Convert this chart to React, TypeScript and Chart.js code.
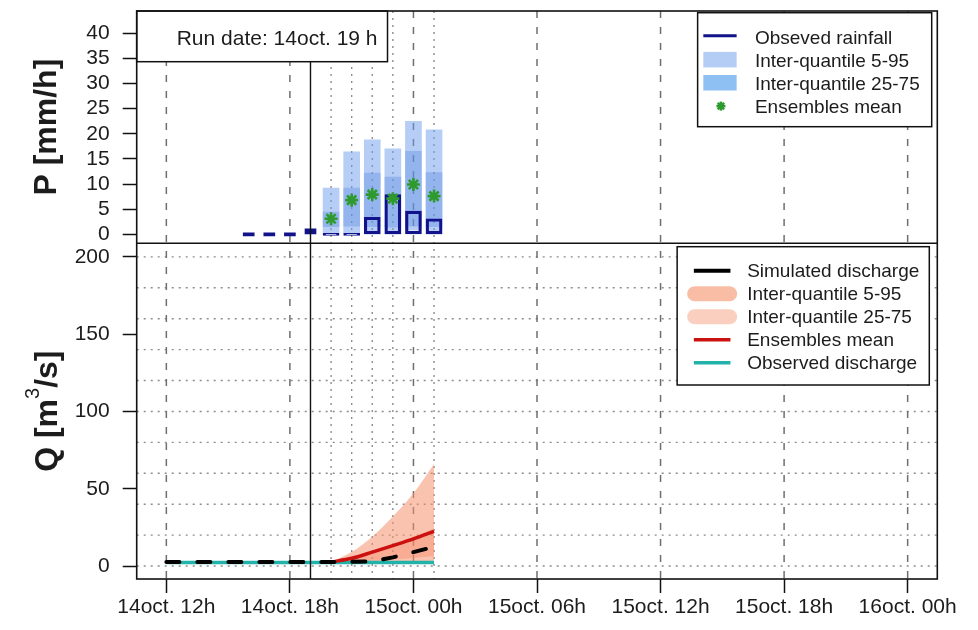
import React, { useEffect, useRef } from 'react';
import { Chart, registerables } from 'chart.js';

Chart.register(...registerables);

const FONT = '"Liberation Sans", Arimo, Arial, sans-serif';
const TEXT = '#1c1c1c';

// ---- x axis (hours since 14oct. 00h) ----
const xTickHours = [12, 18, 24, 30, 36, 42, 48];
const xTickLabels = ['14oct. 12h', '14oct. 18h', '15oct. 00h', '15oct. 06h', '15oct. 12h', '15oct. 18h', '16oct. 00h'];
const xRange = [10.56, 49.44];
const runDateHour = 19;
const runDateText = 'Run date: 14oct. 19 h';
const dottedHours = [20, 21, 22, 23, 25];

// ---- rainfall panel ----
const forecastHours = [20, 21, 22, 23, 24, 25];
const pastRainHours = [16, 17, 18, 19];
const pastRainObs = [0.5, 0.5, 0.5, 1.1];
const rainObs = [0, 0.2, 3.4, 7.9, 4.6, 3.1];
const rainQ05 = [0, 0, 0, 0, 0.8, 0];
const rainQ25 = [1.5, 1.6, 1.5, 1.4, 1.6, 1.5];
const rainQ75 = [4.4, 9.2, 12.2, 11.4, 16.5, 12.3];
const rainQ95 = [9.2, 16.4, 18.8, 17.0, 22.5, 20.8];
const rainMean = [3.1, 6.8, 7.9, 7.1, 9.9, 7.6];
const pTicks = [0, 5, 10, 15, 20, 25, 30, 35, 40];
const pRange = [-1.79, 44.44];
const pTitle = 'P [mm/h]';
const pLegend = ['Obseved rainfall', 'Inter-quantile 5-95', 'Inter-quantile 25-75', 'Ensembles mean'];

// ---- discharge panel ----
const qHours = [12, 13, 14, 15, 16, 17, 18, 19, 20, 21, 22, 23, 24, 25];
const qObs = [2.3, 2.3, 2.3, 2.3, 2.3, 2.3, 2.3, 2.3, 2.3, 2.3, 2.3, 2.3, 2.3, 2.3];
const qSim = [2.6, 2.6, 2.6, 2.6, 2.6, 2.6, 2.6, 2.6, 2.6, 2.7, 3.0, 5.6, 9.0, 12.4];
const qQ05 = [2.6, 2.4, 2.4, 2.4, 2.4, 2.4];
const qQ25 = [2.6, 2.9, 3.4, 4.2, 5.2, 6.5];
const qQ75 = [2.6, 5.6, 9.8, 14.2, 18.8, 24.5];
const qQ95 = [2.6, 9.0, 19.0, 32.0, 47.0, 66.0];
const qMean = [2.6, 5.0, 9.0, 13.2, 17.5, 22.4];
const qTicks = [0, 50, 100, 150, 200];
const qGridValues = [0, 20, 40, 60, 80, 100, 120, 140, 160, 180, 200];
const qRange = [-8.4, 208.8];
const qLegend = ['Simulated discharge', 'Inter-quantile 5-95', 'Inter-quantile 25-75', 'Ensembles mean', 'Observed discharge'];

// ---- colours ----
const NAVY = '#12128a';
const GREEN = '#2e9a2e';
const BLUE_95 = 'rgba(110,155,235,0.5)';
const BLUE_75 = 'rgba(85,135,225,0.35)';
const BLUE_95_LEG = '#b4cdf5';
const BLUE_75_LEG = '#8fc0f3';
const PEACH_95 = 'rgba(245,145,110,0.55)';
const PEACH_75 = 'rgba(240,130,95,0.35)';
const PEACH_95_LEG = '#f9bda6';
const PEACH_75_LEG = '#fbcfbf';
const RED = '#cc1111';
const TEAL = '#22b2aa';

const pts = (xs: number[], ys: number[]) => xs.map((x, i) => ({ x, y: ys[i] }));
const range = (xs: number[], lo: number[], hi: number[]) => xs.map((x, i) => ({ x, y: [lo[i], hi[i]] }));

function line(ctx: CanvasRenderingContext2D, x1: number, y1: number, x2: number, y2: number) {
  ctx.beginPath();
  ctx.moveTo(x1, y1);
  ctx.lineTo(x2, y2);
  ctx.stroke();
}

function star(ctx: CanvasRenderingContext2D, cx: number, cy: number, r: number) {
  for (let k = 0; k < 4; k++) {
    const a = (k * Math.PI) / 4;
    line(ctx, cx - r * Math.cos(a), cy - r * Math.sin(a), cx + r * Math.cos(a), cy + r * Math.sin(a));
  }
}

const panelPlugin = {
  id: 'panels',
  beforeDatasetsDraw(chart: any) {
    const { ctx, chartArea: a, scales } = chart;
    const x = scales.x;
    const yQ = scales.yQ;
    ctx.save();
    ctx.beginPath();
    ctx.rect(a.left, a.top, a.right - a.left, a.bottom - a.top);
    ctx.clip();
    ctx.lineWidth = 1.4;
    ctx.strokeStyle = '#8c8c8c';
    ctx.setLineDash([2, 5]);
    for (const v of qGridValues) {
      const y = yQ.getPixelForValue(v);
      line(ctx, a.left, y, a.right, y);
    }
    for (const h of dottedHours) {
      const px = x.getPixelForValue(h);
      line(ctx, px, a.top, px, a.bottom);
    }
    ctx.strokeStyle = '#6e6e6e';
    ctx.lineWidth = 1.5;
    ctx.setLineDash([7, 9]);
    for (const h of xTickHours) {
      const px = x.getPixelForValue(h);
      line(ctx, px, a.top, px, a.bottom);
    }
    ctx.restore();
  },
  afterDatasetsDraw(chart: any) {
    const { ctx, chartArea: a, scales } = chart;
    const x = scales.x;
    const yP = scales.yP;
    const yQ = scales.yQ;
    ctx.save();
    ctx.setLineDash([]);
    // run date vertical line
    ctx.strokeStyle = '#111';
    ctx.lineWidth = 1.4;
    const rx = x.getPixelForValue(runDateHour);
    line(ctx, rx, a.top, rx, a.bottom);

    // run date box
    ctx.font = `21px ${FONT}`;
    const tw = ctx.measureText(runDateText).width;
    const bw = 40 + tw + 10;
    const bh = 50.7;
    ctx.fillStyle = '#fff';
    ctx.fillRect(a.left, a.top, bw, bh);
    ctx.lineWidth = 1.5;
    ctx.strokeRect(a.left, a.top, bw, bh);
    ctx.fillStyle = TEXT;
    ctx.textAlign = 'left';
    ctx.textBaseline = 'middle';
    ctx.fillText(runDateText, a.left + 40, a.top + 28);

    // legend: rainfall
    ctx.font = `19px ${FONT}`;
    let maxW = Math.max(...pLegend.map((t) => ctx.measureText(t).width));
    let lw = 57.3 + maxW + 12;
    let lr = a.right - 5.6;
    let ll = lr - lw;
    let lt = a.top + 1.7;
    let lh = 114;
    ctx.fillStyle = '#fff';
    ctx.fillRect(ll, lt, lw, lh);
    ctx.strokeStyle = '#111';
    ctx.lineWidth = 1.5;
    ctx.strokeRect(ll, lt, lw, lh);
    const pRow = (i: number) => lt + 24.6 + i * 23.1;
    ctx.strokeStyle = NAVY;
    ctx.lineWidth = 3;
    line(ctx, ll + 5.7, pRow(0) - 1.5, ll + 39, pRow(0) - 1.5);
    ctx.fillStyle = BLUE_95_LEG;
    ctx.fillRect(ll + 5.7, pRow(1) - 8.5, 33.3, 15.5);
    ctx.fillStyle = BLUE_75_LEG;
    ctx.fillRect(ll + 5.7, pRow(2) - 8.5, 33.3, 15.5);
    ctx.strokeStyle = GREEN;
    ctx.lineWidth = 2.5;
    star(ctx, ll + 23.3, pRow(3) - 0.5, 4.5);
    ctx.fillStyle = TEXT;
    ctx.textAlign = 'left';
    ctx.textBaseline = 'middle';
    pLegend.forEach((t, i) => ctx.fillText(t, ll + 57.3, pRow(i) + 1));

    // legend: discharge
    maxW = Math.max(...qLegend.map((t) => ctx.measureText(t).width));
    lw = 70 + maxW + 10;
    lr = a.right - 8;
    ll = lr - lw;
    lt = yQ.top + 3.4;
    lh = 138.3;
    ctx.fillStyle = '#fff';
    ctx.fillRect(ll, lt, lw, lh);
    ctx.strokeStyle = '#111';
    ctx.lineWidth = 1.5;
    ctx.strokeRect(ll, lt, lw, lh);
    const qRow = (i: number) => lt + 24 + i * 23;
    ctx.lineWidth = 4;
    ctx.strokeStyle = '#000';
    line(ctx, ll + 16.7, qRow(0), ll + 53.3, qRow(0));
    ctx.lineCap = 'round';
    ctx.lineWidth = 15;
    ctx.strokeStyle = PEACH_95_LEG;
    line(ctx, ll + 17.5, qRow(1), ll + 52.5, qRow(1));
    ctx.strokeStyle = PEACH_75_LEG;
    line(ctx, ll + 17.5, qRow(2), ll + 52.5, qRow(2));
    ctx.lineCap = 'butt';
    ctx.lineWidth = 3.5;
    ctx.strokeStyle = RED;
    line(ctx, ll + 16.7, qRow(3), ll + 53.3, qRow(3));
    ctx.strokeStyle = TEAL;
    line(ctx, ll + 16.7, qRow(4), ll + 53.3, qRow(4));
    ctx.fillStyle = TEXT;
    qLegend.forEach((t, i) => ctx.fillText(t, ll + 70, qRow(i) + 1));

    // frame and divider
    ctx.strokeStyle = '#111';
    ctx.lineWidth = 1.6;
    ctx.strokeRect(a.left, a.top, a.right - a.left, a.bottom - a.top);
    line(ctx, a.left, yP.bottom, a.right, yP.bottom);

    // axis titles
    ctx.fillStyle = TEXT;
    ctx.textBaseline = 'alphabetic';
    ctx.save();
    ctx.translate(56, (yP.top + yP.bottom) / 2);
    ctx.rotate(-Math.PI / 2);
    ctx.font = `bold 32px ${FONT}`;
    ctx.textAlign = 'center';
    ctx.fillText(pTitle, 0, 0);
    ctx.restore();

    ctx.save();
    ctx.translate(57, (yQ.top + yQ.bottom) / 2);
    ctx.rotate(-Math.PI / 2);
    ctx.textAlign = 'left';
    const bold = `bold 32px ${FONT}`;
    const sup = `20px ${FONT}`;
    ctx.font = bold;
    const w1 = ctx.measureText('Q [m').width;
    const w3 = ctx.measureText('/s]').width;
    ctx.font = sup;
    const w2 = ctx.measureText('3').width;
    let sx = -(w1 + w2 + w3) / 2;
    ctx.font = bold;
    ctx.fillText('Q [m', sx, 0);
    sx += w1;
    ctx.font = sup;
    ctx.fillText('3', sx, -18);
    sx += w2;
    ctx.font = bold;
    ctx.fillText('/s]', sx, 0);
    ctx.restore();

    ctx.restore();
  },
};

const tickFont = { family: FONT, size: 21 };
const axisGrid = { offset: false, drawOnChartArea: false, drawTicks: true, tickLength: 14, tickColor: '#111', tickWidth: 1.5 };
const noPad = (s: any) => {
  s.paddingTop = 0;
  s.paddingBottom = 0;
  s.paddingLeft = 0;
  s.paddingRight = 0;
};

export default function App() {
  const ref = useRef<HTMLCanvasElement>(null);
  useEffect(() => {
    if (!ref.current) return;
    const chart = new Chart(ref.current, {
      type: 'bar',
      data: {
        datasets: [
          {
            type: 'line', label: pLegend[3], yAxisID: 'yP', data: pts(forecastHours, rainMean),
            showLine: false, pointStyle: 'star', pointRadius: 6.5, pointBorderWidth: 2.6,
            pointBorderColor: GREEN, borderColor: GREEN, order: 0,
          } as any,
          {
            type: 'bar', label: pLegend[0], yAxisID: 'yP', data: range(forecastHours, forecastHours.map(() => 0), rainObs),
            backgroundColor: 'rgba(0,0,0,0)', borderColor: NAVY, borderWidth: 2.5, borderSkipped: false,
            barThickness: 16, minBarLength: 2, grouped: false, order: 1,
          } as any,
          {
            type: 'bar', label: pLegend[0], yAxisID: 'yP', data: range(pastRainHours, pastRainHours.map(() => 0), pastRainObs),
            backgroundColor: NAVY, borderColor: NAVY, borderWidth: 0,
            barThickness: 11, minBarLength: 3, grouped: false, order: 1,
          } as any,
          {
            type: 'bar', label: pLegend[2], yAxisID: 'yP', data: range(forecastHours, rainQ25, rainQ75),
            backgroundColor: BLUE_75, borderWidth: 0, barThickness: 16, grouped: false, order: 2,
          } as any,
          {
            type: 'bar', label: pLegend[1], yAxisID: 'yP', data: range(forecastHours, rainQ05, rainQ95),
            backgroundColor: BLUE_95, borderWidth: 0, barThickness: 16, grouped: false, order: 3,
          } as any,
          {
            type: 'line', label: qLegend[0], yAxisID: 'yQ', data: pts(qHours, qSim),
            borderColor: '#000', borderWidth: 4, borderDash: [13, 18], borderCapStyle: 'round',
            pointRadius: 0, fill: false, order: 0,
          } as any,
          {
            type: 'line', label: qLegend[3], yAxisID: 'yQ', data: pts(forecastHours, qMean),
            borderColor: RED, borderWidth: 3.5, pointRadius: 0, fill: false, cubicInterpolationMode: 'monotone', order: 1,
          } as any,
          {
            type: 'line', label: qLegend[4], yAxisID: 'yQ', data: pts(qHours, qObs),
            borderColor: TEAL, borderWidth: 3.5, pointRadius: 0, fill: false, order: 2,
          } as any,
          {
            type: 'line', label: qLegend[2], yAxisID: 'yQ', data: pts(forecastHours, qQ75),
            borderWidth: 0, pointRadius: 0, backgroundColor: PEACH_75, fill: '+1', cubicInterpolationMode: 'monotone', order: 3,
          } as any,
          {
            type: 'line', label: qLegend[2], yAxisID: 'yQ', data: pts(forecastHours, qQ25),
            borderWidth: 0, pointRadius: 0, fill: false, cubicInterpolationMode: 'monotone', order: 3,
          } as any,
          {
            type: 'line', label: qLegend[1], yAxisID: 'yQ', data: pts(forecastHours, qQ95),
            borderWidth: 0, pointRadius: 0, backgroundColor: PEACH_95, fill: '+1', cubicInterpolationMode: 'monotone', order: 4,
          } as any,
          {
            type: 'line', label: qLegend[1], yAxisID: 'yQ', data: pts(forecastHours, qQ05),
            borderWidth: 0, pointRadius: 0, fill: false, cubicInterpolationMode: 'monotone', order: 4,
          } as any,
        ],
      },
      options: {
        animation: false,
        responsive: false,
        maintainAspectRatio: false,
        layout: { padding: { top: 11, right: 40.7, bottom: 0, left: 0 } },
        plugins: { legend: { display: false }, tooltip: { enabled: false } },
        scales: {
          x: {
            type: 'linear', min: xRange[0], max: xRange[1], offset: false,
            afterBuildTicks: (s: any) => { s.ticks = xTickHours.map((v) => ({ value: v })); },
            afterFit: (s: any) => { s.height = 51; noPad(s); },
            ticks: {
              autoSkip: false, maxRotation: 0, padding: 2, color: TEXT, font: tickFont,
              callback: (v: any) => xTickLabels[xTickHours.indexOf(Number(v))] ?? '',
            },
            grid: axisGrid,
            border: { display: false },
          },
          yP: {
            type: 'linear', position: 'left', stack: 'panels', stackWeight: 232.3, weight: 2,
            min: pRange[0], max: pRange[1], offset: false,
            afterBuildTicks: (s: any) => { s.ticks = pTicks.map((v) => ({ value: v })); },
            afterFit: (s: any) => { s.width = 136.7; noPad(s); },
            ticks: { autoSkip: false, padding: 13, color: TEXT, font: tickFont },
            grid: axisGrid,
            border: { display: false },
          },
          yQ: {
            type: 'linear', position: 'left', stack: 'panels', stackWeight: 335.7, weight: 1,
            min: qRange[0], max: qRange[1], offset: false,
            afterBuildTicks: (s: any) => { s.ticks = qTicks.map((v) => ({ value: v })); },
            afterFit: (s: any) => { s.width = 136.7; noPad(s); },
            ticks: { autoSkip: false, padding: 13, color: TEXT, font: tickFont },
            grid: axisGrid,
            border: { display: false },
          },
        } as any,
      },
      plugins: [panelPlugin],
    });
    return () => chart.destroy();
  }, []);

  return (
    <div style={{ position: 'absolute', left: 0, top: 0, width: 978, height: 630, background: '#fff' }}>
      <canvas ref={ref} width={978} height={630} style={{ display: 'block' }} />
    </div>
  );
}
